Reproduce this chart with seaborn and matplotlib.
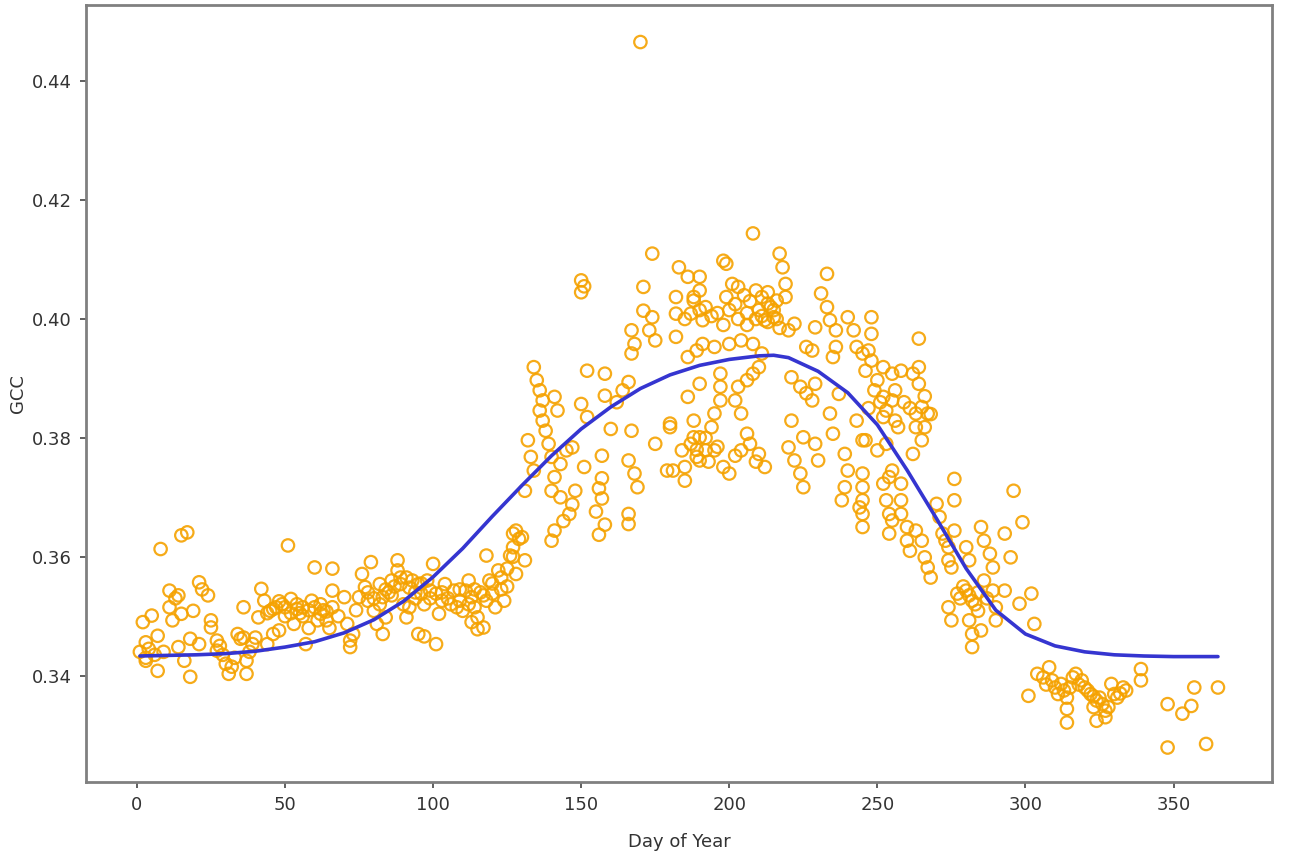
import matplotlib
matplotlib.use("Agg")
import matplotlib.pyplot as plt
from matplotlib import font_manager
import seaborn as sns
import pandas as pd

# ---- observed GCC values (day of year, GCC) ----
doy = [
    2, 3, 1, 3, 3, 4, 5, 6, 7, 7, 8, 9, 11, 11, 12, 13, 14, 14, 15, 15, 16, 17, 18, 18, 19,
    21, 21, 22, 24, 25, 25, 27, 27, 28, 29, 30, 31, 32, 33, 34, 35, 36, 36, 37, 37, 38, 39, 40,
    41, 42, 43, 44, 45, 46, 47, 48, 49, 50, 51, 52, 53, 54, 55, 56, 57, 58, 59, 60, 61, 62, 63,
    64, 65,
    66, 66, 66, 68, 70, 71, 72, 72, 73, 74, 75, 76, 77, 78, 79, 80, 81, 82, 83, 83, 84, 85, 86,
    88, 88, 89, 90, 91, 91, 92, 93, 94, 95, 95, 96, 97, 98, 99, 100, 101, 101, 102, 103, 104,
    105, 107, 108, 109, 110, 111, 112, 113, 114, 115, 116, 117, 118, 118, 119, 120, 121, 122,
    123, 124, 125, 126, 127, 128, 128, 129, 115, 113, 97,
    127, 130, 131, 131, 132, 133, 134, 134, 135, 136, 136, 137, 137, 138, 139, 140, 140, 140,
    141, 141, 141, 142, 143, 143, 144, 145, 146, 147, 147, 148, 150, 150, 150, 151, 151, 152,
    152, 155, 156, 156, 157, 157, 157, 158, 158, 158, 160, 162, 164, 166, 166, 166, 166, 167,
    167, 167, 168, 168, 169, 170, 171, 171, 173, 174, 174, 175, 175, 179, 180, 180, 181, 182,
    182, 182, 183, 184, 185, 185, 186, 186, 186, 187, 188, 188, 189, 189,
    188, 188, 190, 190, 190, 191, 190, 190, 190, 191, 192, 194, 195, 195, 195, 197, 197, 197,
    198, 199, 199, 200, 200, 200, 201, 202, 203, 203, 204, 204, 204, 206, 206, 208, 208, 208,
    209, 210, 210, 210, 211, 211, 212, 212, 213, 215, 216, 217, 218, 219, 219, 220, 220, 221,
    221, 222, 222, 224, 224, 225, 225, 226, 226, 228, 228, 229, 229, 229, 230, 231, 233, 233,
    234, 234, 235, 235, 236, 236, 237, 238, 239, 239, 240, 240, 242, 243, 243, 244, 245, 245,
    202, 205, 206, 207, 209, 213, 214, 216, 198,
    246, 246, 245, 245, 245, 245, 245, 247, 248, 248, 248, 250, 250, 252, 252, 252, 252, 253,
    253, 253, 254, 254, 255, 255, 255, 255, 254, 256, 257, 258, 258, 258, 258, 260, 260, 261,
    262, 262, 263, 263, 263, 264, 264, 264, 265, 265, 265, 266, 266, 267, 267, 268, 270, 271,
    272, 273, 274, 274, 274, 275, 275, 276, 276, 276, 277, 280, 280, 281, 281, 282, 282, 282,
    284, 285, 285, 286, 286, 288, 289, 289, 290, 290, 293, 293, 295, 296, 298, 299, 302, 303,
    301, 304, 306, 308, 309, 310, 311, 312, 313, 314, 314, 314, 316, 317, 319, 320, 322, 323,
    324, 324, 325, 326, 327, 327, 328, 329, 330, 331, 333, 334, 339, 339, 348, 348, 353, 356,
    357, 361, 365,
    44, 46, 48, 50, 52, 54, 56, 58, 60, 62, 64,
    78, 80, 82, 84, 86, 87, 89, 92, 94, 96, 99,
    103, 106, 109, 112, 114, 117, 120, 123, 125, 127,
    185, 192, 194, 196, 198, 203, 206, 211, 213, 215, 217,
    187, 189, 192, 193, 196, 202, 207, 209,
    247, 249, 251, 256, 259, 261, 266, 268,
    278, 279, 281, 283, 284, 287,
    307, 315, 318, 321, 323, 332,
]

gcc = [
    0.3490, 0.3430, 0.3440, 0.3456, 0.3425, 0.3445, 0.3501, 0.3435, 0.3467, 0.3408, 0.3613,
    0.3440, 0.3543, 0.3515, 0.3493, 0.3530, 0.3448, 0.3535, 0.3636, 0.3504, 0.3425, 0.3641,
    0.3462, 0.3398, 0.3509,
    0.3453, 0.3557, 0.3545, 0.3535, 0.3493, 0.3481, 0.3459, 0.3442, 0.3450, 0.3435, 0.3420,
    0.3403, 0.3415, 0.3430, 0.3470, 0.3462, 0.3464, 0.3515, 0.3425, 0.3403, 0.3440, 0.3453,
    0.3464, 0.3498, 0.3546, 0.3526, 0.3453, 0.3509, 0.3470, 0.3515, 0.3476, 0.3520, 0.3500,
    0.3619, 0.3529, 0.3487, 0.3520, 0.3505, 0.3515, 0.3453, 0.3480, 0.3526, 0.3582, 0.3493,
    0.3504, 0.3510, 0.3493, 0.3480,
    0.3580, 0.3543, 0.3515, 0.3500, 0.3532, 0.3487, 0.3459, 0.3448, 0.3470, 0.3510, 0.3532,
    0.3571, 0.3549, 0.3526, 0.3591, 0.3509, 0.3487, 0.3554, 0.3532, 0.3470, 0.3498, 0.3540,
    0.3560, 0.3594, 0.3577, 0.3554, 0.3520, 0.3565, 0.3498, 0.3515, 0.3560, 0.3540, 0.3554,
    0.3470, 0.3538, 0.3520, 0.3560, 0.3543, 0.3588, 0.3538, 0.3453, 0.3504, 0.3526, 0.3554,
    0.3530, 0.3543, 0.3515, 0.3526, 0.3509, 0.3543, 0.3560, 0.3532, 0.3515, 0.3498, 0.3540,
    0.3481, 0.3526, 0.3602, 0.3560, 0.3538, 0.3515, 0.3577, 0.3565, 0.3526, 0.3550, 0.3602,
    0.3639, 0.3571, 0.3644, 0.3630, 0.3478, 0.3490, 0.3466,
    0.3616, 0.3633, 0.3594, 0.3711, 0.3796, 0.3768, 0.3745, 0.3919, 0.3897, 0.3880, 0.3846,
    0.3863, 0.3829, 0.3812, 0.3790, 0.3768, 0.3711, 0.3627, 0.3869, 0.3734, 0.3644, 0.3846,
    0.3756, 0.3700, 0.3660, 0.3779, 0.3672, 0.3784, 0.3688, 0.3711, 0.3857, 0.4045, 0.4065,
    0.4055, 0.3751, 0.3913, 0.3835, 0.3676, 0.3715, 0.3637, 0.3770, 0.3732, 0.3698, 0.3908,
    0.3871, 0.3654, 0.3815, 0.3860, 0.3880, 0.3894, 0.3762, 0.3672, 0.3655, 0.3812, 0.3981,
    0.3942, 0.3958, 0.3740, 0.3717, 0.4466, 0.4054, 0.4014, 0.3981, 0.4110, 0.4003, 0.3964,
    0.3790, 0.3745, 0.3824, 0.3818, 0.3745, 0.4037, 0.4009, 0.3970, 0.4087, 0.3779, 0.3751,
    0.3728, 0.4071, 0.3936, 0.3869, 0.4009, 0.4037, 0.3801, 0.3947, 0.3768,
    0.3829, 0.4031, 0.4071, 0.4048, 0.4015, 0.3998, 0.3891, 0.3801, 0.3762, 0.3958, 0.3779,
    0.3818, 0.3841, 0.3953, 0.3779, 0.3908, 0.3886, 0.3863, 0.3751, 0.4093, 0.4037, 0.4015,
    0.3958, 0.3740, 0.4059, 0.3863, 0.4054, 0.3886, 0.3964, 0.3841, 0.3779, 0.3897, 0.3807,
    0.4144, 0.3958, 0.3908, 0.4048, 0.4015, 0.3919, 0.3773, 0.4037, 0.3942, 0.3998, 0.3751,
    0.4026, 0.4003, 0.4031, 0.4110, 0.4087, 0.4059, 0.4037, 0.3981, 0.3784, 0.3902, 0.3829,
    0.3992, 0.3762, 0.3886, 0.3740, 0.3801, 0.3717, 0.3953, 0.3875, 0.3947, 0.3863, 0.3986,
    0.3891, 0.3790, 0.3762, 0.4043, 0.4076, 0.4020, 0.3998, 0.3841, 0.3936, 0.3807, 0.3981,
    0.3953, 0.3874, 0.3695, 0.3773, 0.3717, 0.4003, 0.3745, 0.3981, 0.3953, 0.3829, 0.3683,
    0.3942, 0.3796,
    0.4025, 0.4040, 0.4010, 0.4030, 0.4000, 0.4045, 0.4020, 0.4000, 0.4098,
    0.3913, 0.3796, 0.3740, 0.3717, 0.3695, 0.3672, 0.3650, 0.3947, 0.4003, 0.3975, 0.3930,
    0.3897, 0.3779, 0.3919, 0.3869, 0.3835, 0.3723, 0.3846, 0.3790, 0.3695, 0.3734, 0.3672,
    0.3908, 0.3863, 0.3745, 0.3661, 0.3639, 0.3829, 0.3818, 0.3913, 0.3723, 0.3695, 0.3672,
    0.3650, 0.3627, 0.3610, 0.3908, 0.3773, 0.3841, 0.3818, 0.3644, 0.3967, 0.3919, 0.3891,
    0.3852, 0.3796, 0.3627, 0.3818, 0.3599, 0.3841, 0.3582, 0.3565, 0.3689, 0.3667, 0.3639,
    0.3627, 0.3616, 0.3594, 0.3515, 0.3582, 0.3493, 0.3731, 0.3695, 0.3644, 0.3538, 0.3616,
    0.3543, 0.3594, 0.3493, 0.3526, 0.3470, 0.3448, 0.3509, 0.3650, 0.3476, 0.3627, 0.3560,
    0.3605, 0.3582, 0.3543, 0.3515, 0.3493, 0.3639, 0.3543, 0.3599, 0.3711, 0.3521, 0.3658,
    0.3538, 0.3487,
    0.3366, 0.3403, 0.3397, 0.3414, 0.3392, 0.3380, 0.3369, 0.3386, 0.3375, 0.3363, 0.3344,
    0.3321, 0.3397, 0.3403, 0.3392, 0.3380, 0.3369, 0.3347, 0.3358, 0.3324, 0.3363, 0.3352,
    0.3341, 0.3330, 0.3347, 0.3386, 0.3369, 0.3363, 0.3380, 0.3375, 0.3411, 0.3392, 0.3352,
    0.3279, 0.3336, 0.3349, 0.3380, 0.3285, 0.3380,
    0.3505, 0.3512, 0.3525, 0.3515, 0.3505, 0.3512, 0.3500, 0.3510, 0.3515, 0.3520, 0.3508,
    0.3540, 0.3530, 0.3520, 0.3545, 0.3535, 0.3550, 0.3565, 0.3548, 0.3530, 0.3555, 0.3530,
    0.3540, 0.3520, 0.3545, 0.3520, 0.3545, 0.3535, 0.3555, 0.3545, 0.3580, 0.3600,
    0.4000, 0.4020, 0.4005, 0.4010, 0.3990, 0.4000, 0.3990, 0.4005, 0.3995, 0.4015, 0.3985,
    0.3790, 0.3780, 0.3800, 0.3760, 0.3785, 0.3770, 0.3790, 0.3760,
    0.3850, 0.3880, 0.3860, 0.3880, 0.3860, 0.3850, 0.3870, 0.3840,
    0.3530, 0.3550, 0.3535, 0.3520, 0.3540, 0.3530,
    0.3385, 0.3380, 0.3385, 0.3375, 0.3365, 0.3370,
]

# ---- fitted seasonal curve ----
curve_doy = [1, 10, 20, 30, 40, 50, 60, 70, 80, 90, 100, 110, 120, 130, 140, 150, 160, 170,
             180, 190, 200, 210, 215, 220, 230, 240, 250, 260, 270, 280, 290, 300, 310, 320,
             330, 340, 350, 360, 365]
curve_gcc = [0.3433, 0.3434, 0.3435, 0.3437, 0.3441, 0.3448, 0.3457, 0.3472, 0.3494, 0.3525,
             0.3566, 0.3614, 0.3668, 0.3720, 0.3770, 0.3815, 0.3852, 0.3883, 0.3906, 0.3922,
             0.3932, 0.3938, 0.3939, 0.3935, 0.3912, 0.3876, 0.3822, 0.3746, 0.3664, 0.3580,
             0.3510, 0.3470, 0.3450, 0.3440, 0.3435, 0.3433, 0.3432, 0.3432, 0.3432]

x_ticks = [0, 50, 100, 150, 200, 250, 300, 350]
y_ticks = [0.34, 0.36, 0.38, 0.40, 0.42, 0.44]
y_tick_labels = ["0.34", "0.36", "0.38", "0.40", "0.42", "0.44"]

n = min(len(doy), len(gcc))
obs = pd.DataFrame({"doy": doy[:n], "gcc": gcc[:n]})
fit = pd.DataFrame({"doy": curve_doy, "gcc": curve_gcc})

sns.set_style("white")
available = {f.name for f in font_manager.fontManager.ttflist}
family = "Liberation Sans Narrow" if "Liberation Sans Narrow" in available else "DejaVu Sans"
plt.rcParams["font.family"] = [family, "DejaVu Sans"]

fig = plt.figure(figsize=(12.89, 8.66), dpi=100)
ax = fig.add_axes([0.0667, 0.097, 0.92, 0.897])

sns.scatterplot(data=obs, x="doy", y="gcc", ax=ax, marker="o", s=80,
                fc="none", ec="#f5a200", linewidth=1.6, alpha=0.9, zorder=2)
sns.lineplot(data=fit, x="doy", y="gcc", ax=ax, color="#3535d0", linewidth=2.6,
             zorder=3)

ax.set_xticks(x_ticks)
ax.set_yticks(y_ticks)
ax.set_yticklabels(y_tick_labels)
ax.set_xlim(-17.2, 383.2)
ax.set_ylim(0.3221, 0.4528)
ax.tick_params(axis="both", which="major", direction="out", length=4, width=1.2,
               color="#444444", labelsize=13, labelcolor="#333333", bottom=True,
               left=True, pad=6)
for sp in ax.spines.values():
    sp.set_color("#808080")
    sp.set_linewidth(2.0)

ax.set_xlabel("Day of Year", fontsize=13, color="#333333", labelpad=14)
ax.set_ylabel("GCC", fontsize=13, color="#333333", labelpad=4)

fig.savefig("out.png", dpi=100)
